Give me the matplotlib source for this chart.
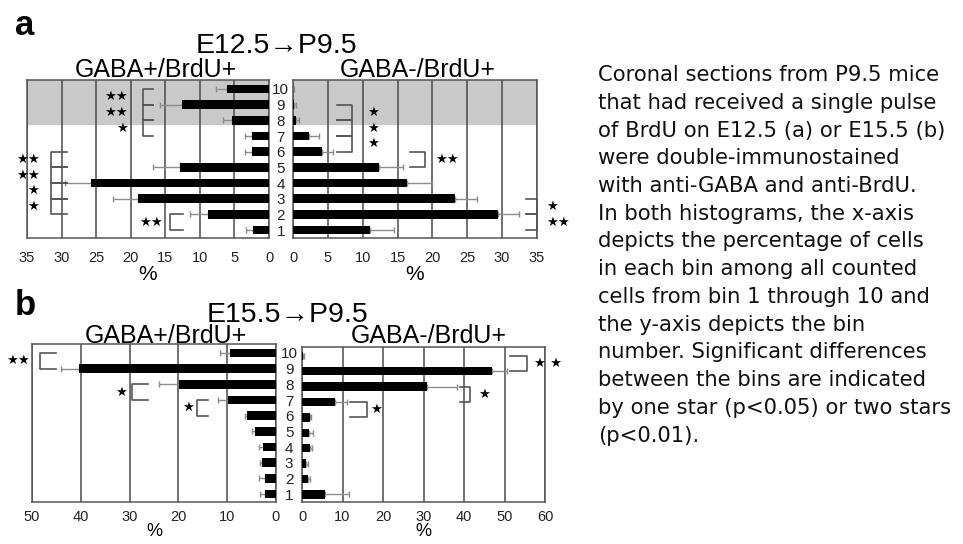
import matplotlib
matplotlib.use('Agg')
import matplotlib.pyplot as plt

# bin number (1 = deepest ... 10 = most superficial)
bins = [1, 2, 3, 4, 5, 6, 7, 8, 9, 10]
bin_labels = [str(b) for b in bins]

# E12.5 -> P9.5, % of cells per bin (mean, error)
a_pos_mean = [2.3, 8.8, 18.9, 25.8, 12.9, 2.4, 2.4, 5.4, 12.6, 6.1]
a_pos_err = [1.0, 2.6, 3.6, 3.7, 3.9, 1.1, 1.1, 1.2, 3.1, 1.5]
a_neg_mean = [11.0, 29.4, 23.2, 16.3, 12.4, 4.1, 2.3, 0.5, 0.2, 0.0]
a_neg_err = [3.5, 3.0, 3.2, 3.6, 3.4, 1.6, 1.5, 0.3, 0.2, 0.2]

# E15.5 -> P9.5
b_pos_mean = [2.3, 2.3, 2.8, 2.7, 4.3, 6.0, 9.8, 19.9, 40.4, 9.4]
b_pos_err = [1.0, 1.2, 0.5, 0.8, 0.7, 0.3, 2.1, 4.1, 3.6, 2.1]
b_neg_mean = [5.6, 1.4, 1.0, 2.0, 1.8, 1.9, 8.2, 30.9, 46.9, 0.3]
b_neg_err = [5.9, 0.6, 0.5, 0.5, 1.0, 0.3, 2.9, 7.4, 3.7, 0.3]

# significant differences between neighbouring bins: (upper bin, lower bin, stars)
a_pos_sig = [(10, 9, '★★'), (9, 8, '★★'), (8, 7, '★'), (6, 5, '★★'),
             (5, 4, '★★'), (4, 3, '★'), (3, 2, '★'), (2, 1, '★★')]
a_neg_sig = [(9, 8, '★'), (8, 7, '★'), (7, 6, '★'), (6, 5, '★★'),
             (3, 2, '★'), (2, 1, '★★')]
b_pos_sig = [(10, 9, '★★'), (8, 7, '★'), (7, 6, '★')]
b_neg_sig = [(10, 9, '★ ★'), (8, 7, '★'), (7, 6, '★')]

caption = [
    "Coronal sections from P9.5 mice",
    "that had received a single pulse",
    "of BrdU on E12.5 (a) or E15.5 (b)",
    "were double-immunostained",
    "with anti-GABA and anti-BrdU.",
    "In both histograms, the x-axis",
    "depicts the percentage of cells",
    "in each bin among all counted",
    "cells from bin 1 through 10 and",
    "the y-axis depicts the bin",
    "number. Significant differences",
    "between the bins are indicated",
    "by one star (p<0.05) or two stars",
    "(p<0.01).",
]

plt.rcParams['font.family'] = ['Liberation Sans', 'DejaVu Sans']

W, H = 963, 544
fig = plt.figure(figsize=(W / 100, H / 100), dpi=100)


def add_px_axes(x0, y0, x1, y1):
    return fig.add_axes([x0 / W, 1 - y1 / H, (x1 - x0) / W, (y1 - y0) / H])


def draw_hist(ax, means, errs, xmax, step, side, shade=False, xpad=9, lpad=0, pct=15):
    ax.barh(bins, means, height=0.55, color='black', zorder=3)
    ax.errorbar(means, bins, xerr=[[0] * len(errs), errs], fmt='none',
                ecolor='#8c8c8c', elinewidth=1, capsize=2, capthick=1, zorder=2)
    if side == 'left':
        ax.set_xlim(xmax, 0)
    else:
        ax.set_xlim(0, xmax)
    ax.set_ylim(0.5, 10.57)
    ax.set_xticks(range(0, xmax + 1, step))
    ax.grid(axis='x', color='#4a4a4a', lw=1.1, zorder=1)
    ax.set_axisbelow(True)
    ax.tick_params(length=0, labelsize=10.5, labelcolor='#222222', pad=xpad)
    for sp in ax.spines.values():
        sp.set_color('#555555')
        sp.set_linewidth(1.1)
    ax.set_xlabel('%', fontsize=pct, labelpad=lpad)
    if shade:
        ax.axhspan(7.75, 11, color='#c9c9c9', zorder=0)
    if side == 'left':
        ax.yaxis.tick_right()
        ax.set_yticks(bins)
        ax.set_yticklabels(bin_labels)
        for lab in ax.get_yticklabels():
            lab.set_ha('center')
    else:
        ax.set_yticks([])


def draw_sig(ax, sig, geom, ha):
    for (hi, lo, stars), (xv, xt, xs) in zip(sig, geom):
        ax.plot([xt, xv, xv, xt], [hi, hi, lo, lo], color='#555555', lw=1.2,
                clip_on=False, zorder=4)
        ax.text(xs, (hi + lo) / 2, stars, ha=ha, va='center', fontsize=9.5,
                family='DejaVu Sans', clip_on=False, zorder=5)


# panel a
ax_a1 = add_px_axes(27, 80, 269, 238)
draw_hist(ax_a1, a_pos_mean, a_pos_err, 35, 5, 'left', shade=True)
ax_a1.tick_params(axis='y', pad=8.5, labelsize=11)
draw_sig(ax_a1, a_pos_sig,
         [(18.2, 16.8, 20.4), (18.2, 16.8, 20.4), (18.2, 16.8, 20.4),
          (31.6, 29.2, 33.2), (31.6, 29.2, 33.2), (31.6, 29.2, 33.2),
          (31.6, 29.2, 33.2), (14.3, 12.4, 15.3)], 'right')

ax_a2 = add_px_axes(293, 80, 537, 238)
draw_hist(ax_a2, a_neg_mean, a_neg_err, 35, 5, 'right', shade=True)
draw_sig(ax_a2, a_neg_sig,
         [(8.45, 6.3, 10.6), (8.45, 6.3, 10.6), (8.45, 6.3, 10.6),
          (19.0, 16.8, 20.4), (35.0, 33.4, 36.3), (35.0, 33.4, 36.3)], 'left')

# panel b
ax_b1 = add_px_axes(32, 344, 276, 502)
draw_hist(ax_b1, b_pos_mean, b_pos_err, 50, 10, 'left', xpad=6, lpad=-1, pct=13)
ax_b1.tick_params(axis='y', pad=9.5, labelsize=11)
draw_sig(ax_b1, b_pos_sig,
         [(48.4, 45.1, 50.4), (29.6, 26.2, 30.6), (16.2, 13.9, 16.9)], 'right')

ax_b2 = add_px_axes(302, 347, 545, 502)
draw_hist(ax_b2, b_neg_mean, b_neg_err, 60, 10, 'right', xpad=6, lpad=-1, pct=13)
draw_sig(ax_b2, b_neg_sig,
         [(55.6, 51.4, 57.2), (41.4, 39.1, 43.6), (16.0, 11.9, 16.9)], 'left')

# titles
fig.text(15 / W, 1 - 35 / H, 'a', fontsize=25, fontweight='bold', va='baseline')
fig.text(15 / W, 1 - 315 / H, 'b', fontsize=25, fontweight='bold', va='baseline')
fig.text(276 / W, 1 - 53 / H, 'E12.5→P9.5', fontsize=20.5, ha='center', va='baseline')
fig.text(287 / W, 1 - 322 / H, 'E15.5→P9.5', fontsize=20.5, ha='center', va='baseline')
fig.text(156 / W, 1 - 77 / H, 'GABA+/BrdU+', fontsize=18, ha='center', va='baseline')
fig.text(418 / W, 1 - 77 / H, 'GABA-/BrdU+', fontsize=18, ha='center', va='baseline')
fig.text(166 / W, 1 - 343 / H, 'GABA+/BrdU+', fontsize=18, ha='center', va='baseline')
fig.text(429 / W, 1 - 343 / H, 'GABA-/BrdU+', fontsize=18, ha='center', va='baseline')

# caption
for i, line in enumerate(caption):
    fig.text(598 / W, 1 - (75 + i * 27.75) / H, line, fontsize=15.2,
             family='DejaVu Sans', color='#111111', va='center', ha='left')

fig.savefig('out.png', dpi=100)
